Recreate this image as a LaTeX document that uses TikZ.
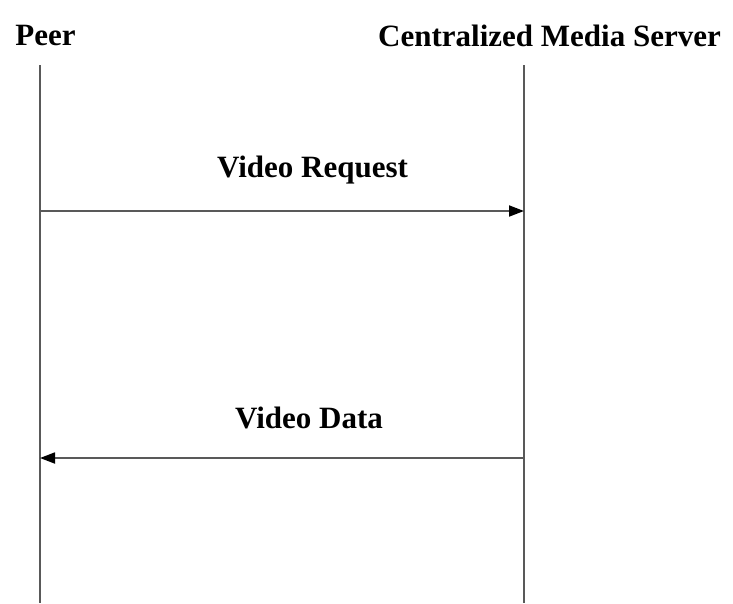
\documentclass[tikz,border=0pt]{standalone}
\usepackage{fontspec}
\setmainfont{Liberation Serif}
\usetikzlibrary{arrows.meta}
\begin{document}
\begin{tikzpicture}[x=1pt,y=-1pt]
\useasboundingbox (0,0) rectangle (733,603);
\tikzset{lifeline/.style={draw=black!65,line width=1.6pt},
  message/.style={draw=black!65,line width=1.8pt,-{Stealth[length=15pt,width=11pt,inset=0pt,black]}},
  actor/.style={font=\fontsize{31}{36}\selectfont\bfseries,inner sep=0pt,anchor=base},
  label/.style={font=\fontsize{31}{36}\selectfont\bfseries,inner sep=0pt,anchor=base}}
\node [actor] (peer) at (45.5,45) {Peer};
\node [actor] (server) at (549.5,46) {Centralized Media Server};
\coordinate (peertop) at (40,65);
\coordinate (peerbot) at (40,603);
\coordinate (servertop) at (524,65);
\coordinate (serverbot) at (524,603);
\draw [lifeline] (peertop) --(peerbot);
\draw [lifeline] (servertop) --(serverbot);
% request and reply
\coordinate (reqpeer) at (40,211);
\coordinate (reqserver) at (524,211);
\coordinate (datapeer) at (40,458);
\coordinate (dataserver) at (524,458);
\draw [message] (reqpeer) --(reqserver);
\draw [message] (dataserver) --(datapeer);
\node [label] (request) at (312.5,177) {Video Request};
\node [label] (data) at (309,428) {Video Data};
\end{tikzpicture}
\end{document}
